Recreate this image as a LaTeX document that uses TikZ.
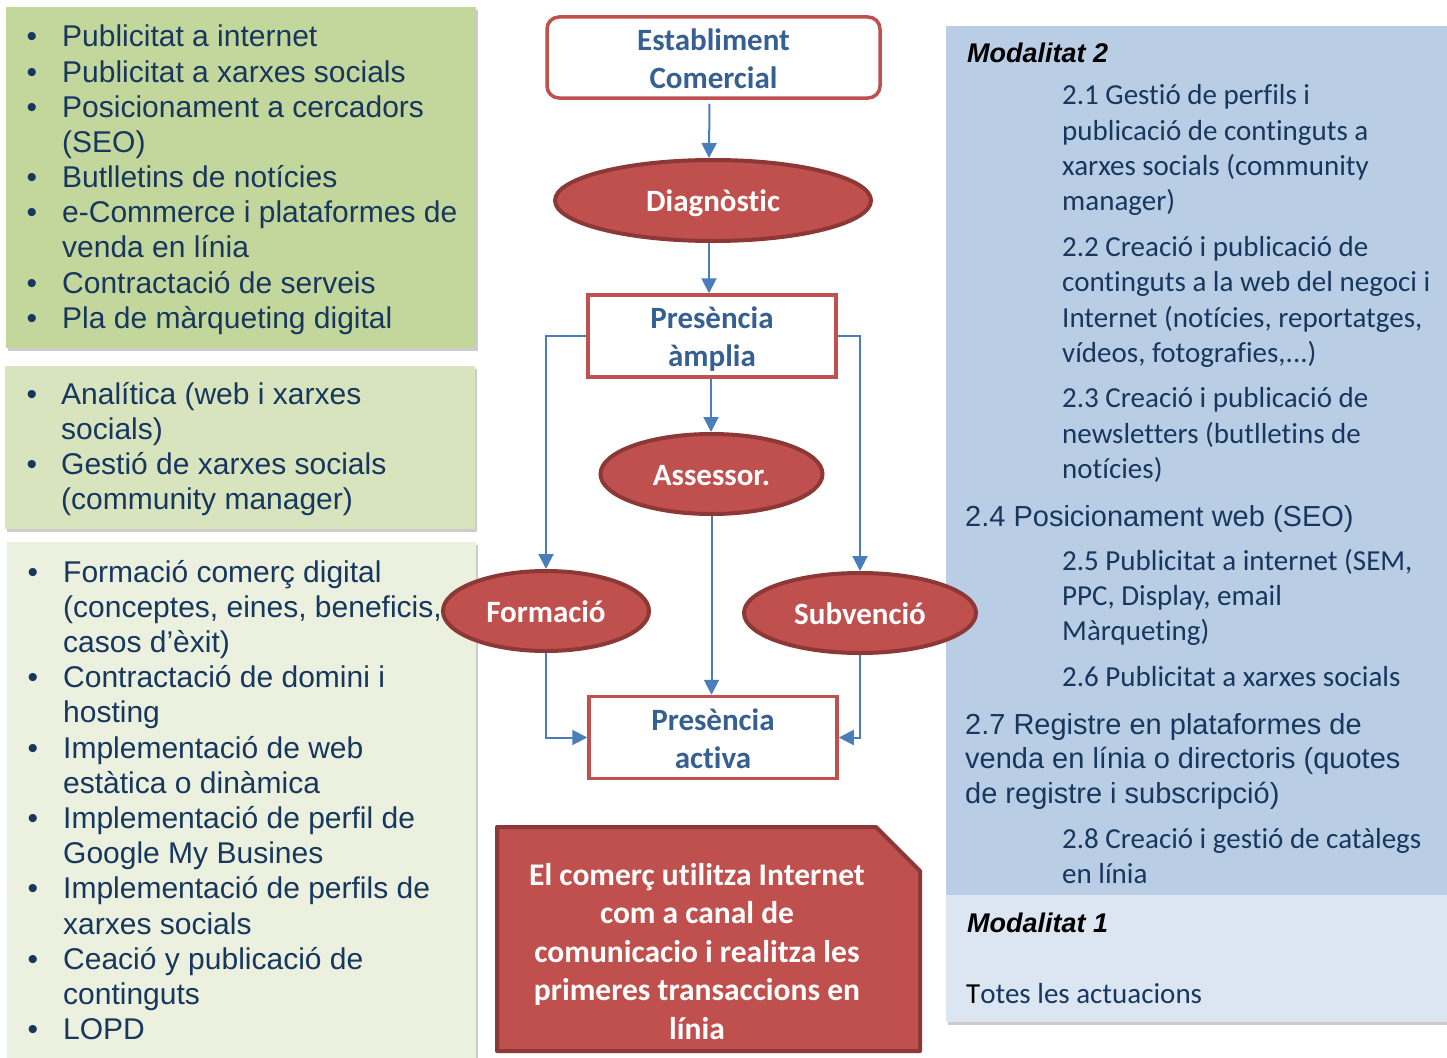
\documentclass[tikz,border=0pt]{standalone}
\usepackage{fontspec}
\setmainfont{Carlito}[Ligatures=NoCommon]
\newfontfamily\rob{Liberation Sans}
\usetikzlibrary{shapes.geometric,arrows.meta,shadows}
\definecolor{txtblue}{HTML}{17375E}
\definecolor{flowblue}{HTML}{376092}
\definecolor{greenA}{HTML}{C3D69B}
\definecolor{greenB}{HTML}{D7E4BD}
\definecolor{greenC}{HTML}{EBF1DE}
\definecolor{blueA}{HTML}{B9CDE5}
\definecolor{blueB}{HTML}{DCE6F2}
\definecolor{redA}{HTML}{C0504D}
\definecolor{redD}{HTML}{8C3836}
\definecolor{arrblue}{HTML}{4A7EBB}
\newcommand\myfs[2]{\fontsize{#1}{#2}\selectfont}
\begin{document}
\begin{tikzpicture}[x=1pt,y=-1pt,
  boxshadow/.style={drop shadow={shadow xshift=2pt,shadow yshift=-3pt,fill=black,opacity=0.2}},
  rtxt/.style={inner sep=0pt,anchor=base west,text=txtblue,font=\rob\myfs{30}{35}},
  rtxtr/.style={inner sep=0pt,anchor=base west,text=txtblue,font=\rob\myfs{29}{35}},
  ctxt/.style={inner sep=0pt,anchor=base west,text=txtblue,font=\myfs{29}{35}},
  bul/.style={inner sep=0pt,anchor=base,text=txtblue,font=\rob\myfs{30}{35}},
  modtitle/.style={inner sep=0pt,anchor=base west,text=black,font=\rob\bfseries\itshape\myfs{27}{32}},
  rrect/.style={draw=redA,line width=3.5pt,rounded corners=12pt,fill=white,minimum width=333pt,minimum height=81pt,align=center,inner sep=0pt,text=flowblue,font=\bfseries\myfs{31}{37.6},text height=61.6pt,text depth=0pt},
  prect/.style={draw=redA,line width=3.5pt,fill=white,minimum width=248pt,minimum height=82pt,align=center,inner sep=0pt,text=flowblue,font=\bfseries\myfs{31}{38}},
  ell/.style={ellipse,fill=redA,draw=redD,line width=4pt,inner sep=0pt,text=white,font=\bfseries\myfs{31}{37},text height=22pt,text depth=0pt},
  arr/.style={draw=arrblue,line width=2pt,-{Triangle[width=15pt,length=15pt]}},
  calltxt/.style={inner sep=0pt,anchor=base,text=white,font=\bfseries\myfs{31.5}{38}}
]
\useasboundingbox (0,0) rectangle (1447,1057);
\fill[white] (0,0) rectangle (1447,1057);

% left boxes
\fill[greenA,boxshadow] (6,7) rectangle (476,348);
\fill[greenB,boxshadow] (5,366) rectangle (475,529);
\fill[greenC,boxshadow] (7,542) rectangle (476,1062);

% right boxes
\fill[blueA,boxshadow] (946,26) rectangle (1450,1022);
\fill[blueB] (946,895) rectangle (1450,1022);

% top-left list
\foreach \b/\t [count=\i] in {1/{Publicitat a internet},1/{Publicitat a xarxes socials},1/{Posicionament a cercadors},0/{(SEO)},1/{Butlletins de notícies},1/{e-Commerce i plataformes de},0/{venda en línia},1/{Contractació de serveis},1/{Pla de màrqueting digital}}{
  \node[rtxt] (ta\i) at (62,{47+35.15*(\i-1)}) {\t};
  \ifnum\b=1 \node[bul] (tab\i) at (32,{47+35.15*(\i-1)}) {•};\fi
}
% middle-left list
\foreach \b/\t [count=\i] in {1/{Analítica (web i xarxes},0/{socials)},1/{Gestió de xarxes socials},0/{(community manager)}}{
  \node[rtxt] (tm\i) at (61,{404+35.3*(\i-1)}) {\t};
  \ifnum\b=1 \node[bul] (tmb\i) at (32,{404+35.3*(\i-1)}) {•};\fi
}
% bottom-left list
\foreach \b/\t [count=\i] in {1/{Formació comerç digital},0/{(conceptes, eines, beneficis,},0/{casos d’èxit)},1/{Contractació de domini i},0/{hosting},1/{Implementació de web},0/{estàtica o dinàmica},1/{Implementació de perfil de},0/{Google My Busines},1/{Implementació de perfils de},0/{xarxes socials},1/{Ceació y publicació de},0/{continguts},1/{LOPD}}{
  \node[rtxt] (tl\i) at (63,{582+35.2*(\i-1)}) {\t};
  \ifnum\b=1 \node[bul] (tlb\i) at (33,{582+35.2*(\i-1)}) {•};\fi
}

% right box texts
\node[modtitle] (mod2) at (967,63) {Modalitat 2};
\foreach \y/\t [count=\i] in {104/{2.1 Gestió de perfils i},140/{publicació de continguts a},175/{xarxes socials (community},210/{manager)},256/{2.2 Creació i publicació de},291/{continguts a la web del negoci i},327/{Internet (notícies, reportatges,},362/{vídeos, fotografies,...)},407/{2.3 Creació i publicació de},443/{newsletters (butlletins de},478/{notícies)},570/{2.5 Publicitat a internet (SEM,},605/{PPC, Display, email},640/{Màrqueting)},686/{2.6 Publicitat a xarxes socials},848/{2.8 Creació i gestió de catàlegs},883/{en línia}}{
  \node[ctxt] (rc\i) at (1062,\y) {\t};
}
\foreach \y/\t [count=\i] in {526/{2.4 Posicionament web (SEO)},734/{2.7 Registre en plataformes de},768.5/{venda en línia o directoris (quotes},803.5/{de registre i subscripció)}}{
  \node[rtxtr] (rr\i) at (965,\y) {\t};
}
\node[modtitle] (mod1) at (967,932) {Modalitat 1};
\node[ctxt] (totes) at (966,1003) {{\color{black}T}otes les actuacions};

% flowchart
\node[rrect] (est) at (713.5,57.5) {Establiment\\Comercial};
\node[ell,minimum width=316pt,minimum height=81pt] (diag) at (713,200.5) {Diagnòstic};
\node[prect,text height=60pt,text depth=0pt] (pa) at (712,336) {Presència\\àmplia};
\node[ell,minimum width=222pt,minimum height=80pt] (ass) at (711.5,474) {Assessor.};
\node[ell,minimum width=206pt,minimum height=80pt] (form) at (546,611) {Formació};
\node[ell,minimum width=232pt,minimum height=80pt] (subv) at (860,613) {Subvenció};
\node[prect,text height=61pt,text depth=0pt] (pact) at (713,737.5) {Presència\\activa};

\draw[arr,shorten <=4pt] ([xshift=-4pt]est.south) -- ([xshift=-4pt]diag.north);
\draw[arr] ([xshift=-4pt]diag.south) -- ([xshift=-3pt]pa.north);
\draw[arr] ([xshift=-1pt]pa.south) -- ([xshift=-0.5pt]ass.north);
\draw[arr] (pa.west) -| (form.north);
\draw[arr] (pa.east) -| (subv.north);
\draw[arr] (ass.south) -- (ass.south |- pact.north);
\draw[arr] (form.south) |- (pact.west);
\draw[arr] (subv.south) |- (pact.east);

% callout
\draw[fill=redA,draw=redD,line width=4pt,line join=round] (497,827) -- (876,827) -- (920,871) -- (920,1051) -- (497,1051) -- cycle;
\foreach \t [count=\i] in {{El comerç utilitza Internet},{com a canal de},{comunicacio i realitza les},{primeres transaccions en},{línia}}{
  \node[calltxt] (ct\i) at (697,{885+38.5*(\i-1)}) {\t};
}
\end{tikzpicture}
\end{document}
